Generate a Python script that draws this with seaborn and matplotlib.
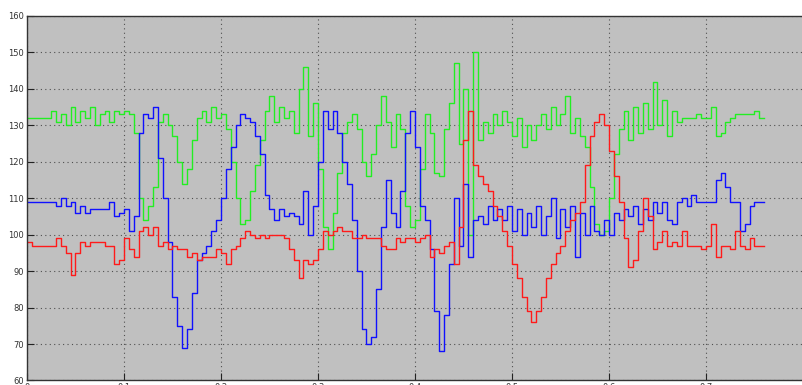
import matplotlib
matplotlib.use("Agg")
import matplotlib.pyplot as plt
import seaborn as sns
import numpy as np
import pandas as pd

# time axis: one sample every 0.005 s
step = 0.005
green = [132, 132, 132, 132, 132, 134, 131, 133, 130, 135,
         131, 134, 132, 135, 130, 133, 134, 131, 134, 133,
         134, 133, 128, 110, 104, 108, 113, 131, 133, 130,
         127, 120, 114, 118, 126, 132, 134, 131, 135, 132,
         133, 129, 120, 110, 103, 104, 112, 119, 126, 134,
         138, 131, 135, 132, 134, 128, 140, 146, 127, 136,
         118, 102, 96, 106, 117, 128, 131, 133, 129, 120,
         116, 122, 130, 138, 131, 124, 133, 129, 108, 102,
         104, 118, 133, 128, 117, 116, 129, 136, 147, 125,
         140, 100, 150, 126, 131, 128, 133, 130, 134, 131,
         127, 132, 124, 130, 126, 130, 133, 129, 135, 130,
         133, 138, 128, 132, 127, 124, 113, 103, 100, 101,
         110, 122, 129, 134, 126, 135, 128, 136, 129, 142,
         130, 137, 127, 134, 131, 132, 132, 132, 133, 132,
         132, 135, 127, 128, 131, 132, 133, 133, 133, 133,
         134, 132, 132]
blue = [109, 109, 109, 109, 109, 109, 108, 110, 108, 109,
        106, 108, 106, 107, 107, 107, 107, 109, 105, 106,
        107, 101, 105, 128, 133, 132, 135, 121, 110, 98,
        83, 75, 69, 74, 84, 93, 95, 97, 101, 104,
        110, 118, 124, 130, 133, 132, 131, 127, 122, 111,
        107, 104, 107, 105, 106, 105, 103, 112, 100, 108,
        120, 134, 129, 134, 128, 120, 114, 104, 90, 74,
        70, 72, 85, 102, 115, 106, 102, 112, 128, 134,
        124, 108, 104, 96, 79, 68, 78, 92, 110, 97,
        114, 94, 104, 105, 103, 108, 104, 107, 104, 108,
        101, 107, 100, 106, 102, 108, 100, 105, 110, 99,
        107, 102, 108, 94, 106, 100, 108, 101, 100, 104,
        100, 106, 104, 107, 105, 108, 103, 107, 104, 109,
        106, 109, 104, 103, 109, 110, 108, 111, 109, 109,
        109, 109, 115, 117, 113, 109, 109, 101, 103, 108,
        109, 109, 109]
red = [98, 97, 97, 97, 97, 97, 99, 97, 95, 89,
       95, 98, 97, 98, 98, 98, 97, 97, 92, 93,
       99, 96, 94, 101, 102, 100, 102, 97, 98, 96,
       97, 96, 96, 94, 95, 93, 94, 94, 94, 96,
       95, 92, 96, 97, 99, 101, 100, 99, 100, 99,
       100, 100, 100, 99, 96, 93, 88, 93, 92, 93,
       96, 101, 100, 101, 102, 101, 101, 99, 99, 100,
       99, 99, 99, 97, 96, 96, 99, 98, 99, 99,
       98, 99, 100, 94, 96, 95, 97, 98, 92, 102,
       126, 134, 119, 116, 114, 112, 108, 105, 101, 97,
       92, 88, 83, 79, 76, 79, 83, 88, 92, 95,
       97, 101, 104, 106, 109, 119, 127, 131, 133, 130,
       123, 116, 109, 99, 91, 93, 101, 110, 105, 96,
       98, 101, 97, 98, 97, 101, 97, 97, 97, 96,
       97, 103, 94, 97, 97, 96, 101, 97, 96, 99,
       97, 97, 97]

t = np.arange(len(green)) * step
df = pd.concat([
    pd.DataFrame({"t": t, "value": green, "signal": "green"}),
    pd.DataFrame({"t": t, "value": blue, "signal": "blue"}),
    pd.DataFrame({"t": t, "value": red, "signal": "red"}),
])

fig = plt.figure(figsize=(8.03, 3.85), dpi=100)
ax = fig.add_axes([0.0336, 0.0117, 0.9664, 0.9468])
ax.set_facecolor("#c0c0c0")

sns.lineplot(data=df, x="t", y="value", hue="signal",
             palette={"green": "#22ee22", "blue": "#1010ff", "red": "#ff1a1a"},
             estimator=None, sort=False, drawstyle="steps-post",
             linewidth=1.0, legend=False, ax=ax)

ax.set_xlim(0, 0.8)
ax.set_ylim(60, 160)
ax.set_xticks(np.arange(0, 0.8, 0.1))
ax.set_xticklabels(["0", "0.1", "0.2", "0.3", "0.4", "0.5", "0.6", "0.7"])
ax.set_yticks(np.arange(60, 161, 10))
ax.set_xlabel("")
ax.set_ylabel("")
ax.grid(True, linestyle=(0, (1, 3)), color="#505050", linewidth=0.8)
ax.tick_params(direction="in", length=5, labelsize=6, colors="#222222",
               labelcolor="#333333", pad=2)
for side in ["left", "bottom", "top"]:
    ax.spines[side].set_color("#333333")
    ax.spines[side].set_linewidth(1.0)
ax.spines["right"].set_visible(False)

fig.savefig("out.png", dpi=100, facecolor="white")
